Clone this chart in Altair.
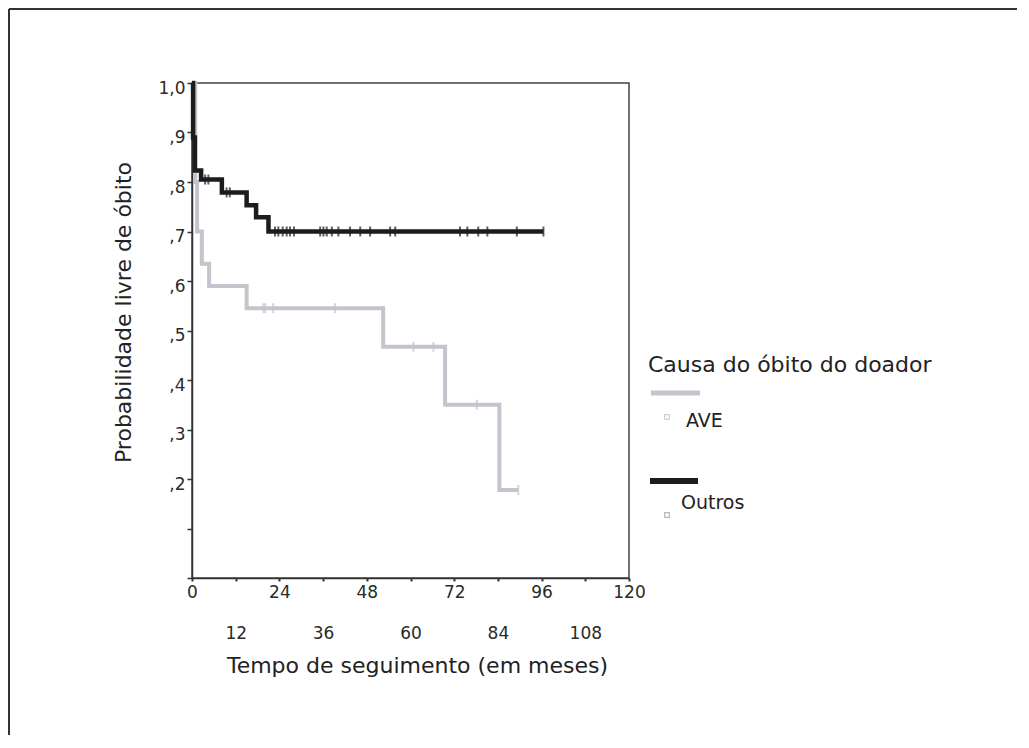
import altair as alt
import pandas as pd

groups = ["AVE", "Outros"]
colors = ["#c5c3cb", "#1c1c1c"]

# Kaplan-Meier step points (time in months, survival probability)
ave_t = [0, 0.9, 1.4, 2.7, 4.7, 15.0, 52.5, 69.5, 84.4, 89.6]
ave_s = [1.0, 0.80, 0.70, 0.635, 0.590, 0.545, 0.467, 0.350, 0.178, 0.178]
out_t = [0, 0.3, 0.8, 2.5, 8.2, 15.0, 17.6, 21.0, 96.5]
out_s = [1.0, 0.89, 0.823, 0.805, 0.779, 0.753, 0.729, 0.700, 0.700]

# censored observations (time in months)
ave_cens = [19.6, 20.1, 22.3, 39.3, 60.8, 66.3, 78.2, 89.6]
out_cens = [3.6, 4.5, 9.5, 10.4, 22.8, 23.7, 24.9, 26.0, 26.9, 28.0, 35.2, 36.1,
            37.0, 38.4, 40.2, 43.4, 46.2, 48.9, 54.4, 55.8, 73.6, 75.6, 78.6,
            81.1, 89.2, 96.5]

x_ticks = [0, 12, 24, 36, 48, 60, 72, 84, 96, 108, 120]
y_ticks = [0, 0.1, 0.2, 0.3, 0.4, 0.5, 0.6, 0.7, 0.8, 0.9, 1.0]

legend_title = "Causa do óbito do doador"
x_title = "Tempo de seguimento (em meses)"
y_title = "Probabilidade livre de óbito"

FONT = "DejaVu Sans"


def level(ts, ss, t):
    v = ss[0]
    for ti, si in zip(ts, ss):
        if ti <= t:
            v = si
    return v


rows = []
for g, ts, ss in [(groups[0], ave_t, ave_s), (groups[1], out_t, out_s)]:
    for t, s in zip(ts, ss):
        rows.append({"group": g, "t": t, "s": s})
df_lines = pd.DataFrame(rows)

crow = []
for g, cs, ts, ss in [(groups[0], ave_cens, ave_t, ave_s), (groups[1], out_cens, out_t, out_s)]:
    for c in cs:
        crow.append({"group": g, "t": c, "s": level(ts, ss, c)})
df_cens = pd.DataFrame(crow)

color = alt.Color("group:N", scale=alt.Scale(domain=groups, range=colors), legend=None)

x_enc = alt.X(
    "t:Q",
    scale=alt.Scale(domain=[0, 120], nice=False),
    axis=alt.Axis(
        values=x_ticks,
        title=x_title,
        labelExpr="datum.value % 24 == 0 ? datum.label : ['', datum.label]",
        labelFont=FONT,
        labelFontSize=17,
        labelColor="#2a2a2a",
        labelPadding=3,
        labelLineHeight=41,
        labelFlush=False,
        labelOverlap=False,
        tickSize=3,
        tickWidth=2,
        tickColor="#333",
        domainColor="#333",
        domainWidth=1.5,
        grid=False,
        titleFont=FONT,
        titleFontSize=22,
        titleFontWeight="normal",
        titleColor="#222",
        titleX=225,
        titleY=77,
        titleBaseline="top",
        titleAlign="center",
    ),
)
y_enc = alt.Y(
    "s:Q",
    scale=alt.Scale(domain=[0, 1], nice=False),
    axis=alt.Axis(
        values=y_ticks,
        title=y_title,
        labelExpr="datum.value > 0.95 ? '1,0' : (datum.value < 0.15 ? '' : ',' + round(datum.value * 10))",
        labelFont=FONT,
        labelFontSize=17,
        labelColor="#2a2a2a",
        labelPadding=2,
        labelOffset=5,
        labelFlush=False,
        labelOverlap=False,
        tickSize=5,
        tickWidth=1.5,
        tickColor="#333",
        domainColor="#333",
        domainWidth=1.5,
        grid=False,
        titleFont=FONT,
        titleFontSize=22,
        titleFontWeight="normal",
        titleColor="#222",
        titleX=-57,
        titleY=229,
        titleAlign="center",
    ),
)

lines = alt.Chart(df_lines).mark_line(interpolate="step-after").encode(
    x=x_enc, y=y_enc, color=color, detail="group:N",
    strokeWidth=alt.StrokeWidth("group:N", scale=alt.Scale(domain=groups, range=[4, 4.5]), legend=None),
)
cens = alt.Chart(df_cens).mark_tick(orient="vertical", size=10, thickness=2).encode(
    x="t:Q", y="s:Q", color=color
)

one = pd.DataFrame({"k": [0]})
frame_left = alt.Chart(one).mark_rule(color="#333", strokeWidth=2).encode(
    x=alt.value(-183), y=alt.value(-74), y2=alt.value(652)
)
frame_top = alt.Chart(one).mark_rule(color="#333", strokeWidth=2).encode(
    y=alt.value(-74), x=alt.value(-183), x2=alt.value(825)
)

leg_title = alt.Chart(pd.DataFrame({"title": [legend_title]})).mark_text(
    align="left", baseline="middle", font=FONT, fontSize=22, color="#222"
).encode(x=alt.value(456), y=alt.value(282), text="title:N")

g0 = pd.DataFrame({"group": [groups[0]]})
g1 = pd.DataFrame({"group": [groups[1]]})

bar0 = alt.Chart(g0).mark_rule(strokeWidth=5, color=colors[0]).encode(
    x=alt.value(459), x2=alt.value(508), y=alt.value(310)
)
bar1 = alt.Chart(g1).mark_rule(strokeWidth=6, color=colors[1]).encode(
    x=alt.value(458), x2=alt.value(506), y=alt.value(398)
)
sq0 = alt.Chart(g0).mark_point(shape="square", size=22, filled=False, color="#aaa", strokeWidth=1).encode(
    x=alt.value(475), y=alt.value(334)
)
sq1 = alt.Chart(g1).mark_point(shape="square", size=22, filled=False, color="#999", strokeWidth=1.2).encode(
    x=alt.value(475), y=alt.value(432)
)
lab0 = alt.Chart(g0).mark_text(align="left", baseline="middle", font=FONT, fontSize=19, color="#222").encode(
    x=alt.value(494), y=alt.value(338), text="group:N"
)
lab1 = alt.Chart(g1).mark_text(align="left", baseline="middle", font=FONT, fontSize=19, color="#222").encode(
    x=alt.value(489), y=alt.value(420), text="group:N"
)

chart = alt.layer(
    frame_left, frame_top, lines, cens, leg_title, bar0, bar1, sq0, sq1, lab0, lab1
).properties(
    width=437, height=495, padding=0, background="white"
).configure_view(stroke="#444", strokeWidth=1.5)

chart.save("out.html", embed_options={"renderer": "svg", "actions": False})
